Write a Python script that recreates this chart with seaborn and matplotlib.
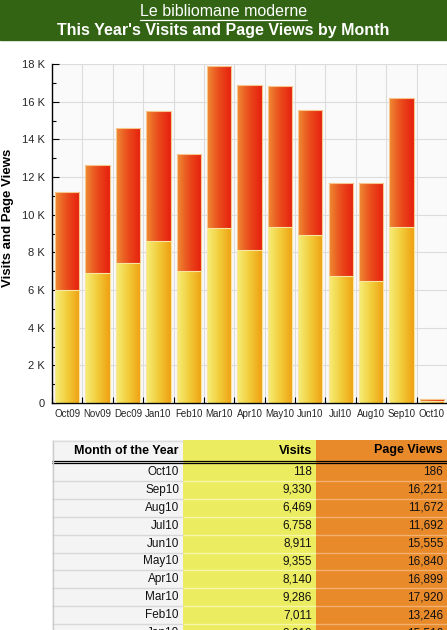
import numpy as np
import pandas as pd
import matplotlib
matplotlib.use("Agg")
import matplotlib.pyplot as plt
import seaborn as sns
from matplotlib.colors import LinearSegmentedColormap
from matplotlib.lines import Line2D

months = ["Oct09", "Nov09", "Dec09", "Jan10", "Feb10", "Mar10", "Apr10",
          "May10", "Jun10", "Jul10", "Aug10", "Sep10", "Oct10"]
visits = [6000, 6900, 7440, 8610, 7011, 9286, 8140, 9355, 8911, 6758, 6469, 9330, 118]
page_views = [11230, 12620, 14590, 15510, 13246, 17920, 16899, 16840, 15555,
              11692, 11672, 16221, 186]
yticks = list(range(0, 18001, 2000))
ytick_labels = ["0"] + [f"{v // 1000} K" for v in yticks[1:]]

df = pd.DataFrame({"month": months, "visits": visits, "page_views": page_views})

sns.set_theme(style="white")
plt.rcParams["font.family"] = ["Liberation Sans", "DejaVu Sans"]

W, H = 447, 630
fig = plt.figure(figsize=(W / 100, H / 100), dpi=100)


def fx(px):
    return px / W


def fy(py):
    return 1 - py / H


# green banner with the two title lines
fig.patches.append(plt.Rectangle((0, fy(40)), 1, 40 / H, transform=fig.transFigure,
                                 color="#326414", zorder=0))
t1 = fig.text(0.5, fy(12), "Le bibliomane moderne", color="white",
              ha="center", va="center", fontsize=11.5)
fig.text(0.5, fy(30), "This Year's Visits and Page Views by Month", color="white",
         ha="center", va="center", fontsize=11.5, fontweight="bold")

# chart
ax = fig.add_axes([fx(52), fy(403), fx(395), 339 / H])
ax.set_facecolor("#fafafa")
sns.barplot(data=df, x="month", y="page_views", ax=ax, width=0.8, color="#e85020",
            edgecolor="#f6c68c", linewidth=0.8, saturation=1)
sns.barplot(data=df, x="month", y="visits", ax=ax, width=0.8, color="#f0c030",
            edgecolor="#f8e6a0", linewidth=0.8, saturation=1)

pv_cmap = LinearSegmentedColormap.from_list("pv", ["#ee8a32", "#ea4a1c", "#e6200e"])
vi_cmap = LinearSegmentedColormap.from_list("vi", ["#f6ee78", "#f2cc3a", "#eea012"])
grad = np.linspace(0, 1, 64).reshape(1, -1)
n = len(months)
for i, p in enumerate(list(ax.patches)):
    cmap = pv_cmap if i < n else vi_cmap
    z = 1.9 if i < n else 2.5
    x0, y0 = p.get_x(), p.get_y()
    w, h = p.get_width(), p.get_height()
    img = ax.imshow(grad, cmap=cmap, aspect="auto", extent=(x0, x0 + w, y0, y0 + h),
                    zorder=z, interpolation="bilinear")
    img.set_clip_path(p)
    p.set_facecolor("none")
    p.set_zorder(z + 0.05)

ax.set_xlim(-0.5, n - 0.5)
ax.set_ylim(0, 18000)
ax.set_yticks(yticks)
ax.set_yticklabels(ytick_labels)
ax.set_yticks(range(1000, 18000, 2000), minor=True)
ax.set_xticks(range(n))
ax.set_xticklabels(months)
ax.set_xticks(np.arange(-0.5, n, 1), minor=True)
ax.grid(which="major", axis="y", color="#dcdcdc", lw=0.8)
ax.grid(which="minor", axis="x", color="#dcdcdc", lw=0.8)
ax.set_axisbelow(True)
ax.tick_params(axis="y", which="major", direction="in", length=5, width=0.8,
               color="black", labelsize=8, pad=5, left=True)
ax.tick_params(axis="y", which="minor", direction="in", length=3, width=0.8,
               color="black", left=True)
ax.tick_params(axis="x", which="major", length=0, labelsize=7, pad=4)
ax.tick_params(axis="x", which="minor", direction="in", length=4, width=0.8,
               color="black", bottom=True)
for s in ["top", "right"]:
    ax.spines[s].set_visible(False)
for s in ["left", "bottom"]:
    ax.spines[s].set_color("black")
    ax.spines[s].set_linewidth(1)
ax.set_xlabel("")
ax.set_ylabel("")
fig.text(fx(8), fy(218), "Visits and Page Views", rotation=90, ha="center",
         va="center", fontsize=9.5, fontweight="bold", color="black")

# table below the chart (only the rows that fit on the page)
tbl = df.iloc[::-1].reset_index(drop=True).iloc[:10]
headers = ["Month of the Year", "Visits", "Page Views"]
col_edges = [0, 131, 264, 395]
col_colors = ["#f4f4f4", "#ecec60", "#e98a2a"]
sep_colors = ["#d8d8d8", "#f6f6a8", "#f2b070"]
head_h, row_h, first = 21, 17.9, 23

tax = fig.add_axes([fx(52), 0, fx(395), 190 / H])
tax.set_xlim(0, 395)
tax.set_ylim(190, 0)
tax.axis("off")
for c in range(3):
    tax.axvspan(col_edges[c], col_edges[c + 1], color=col_colors[c], lw=0, zorder=0)
    tax.text(col_edges[c + 1] - 4, head_h / 2, headers[c], ha="right", va="center",
             fontsize=9, fontweight="bold", color="black")
for r in range(len(tbl)):
    top = first + r * row_h
    vals = [tbl.month[r], f"{tbl.visits[r]:,}", f"{tbl.page_views[r]:,}"]
    for c in range(3):
        tax.hlines(top + row_h, col_edges[c], col_edges[c + 1], color=sep_colors[c],
                   lw=1, zorder=1)
        tax.text(col_edges[c + 1] - 4, top + row_h / 2, vals[c], ha="right",
                 va="center", fontsize=8.5, color="#111111")
tax.hlines([head_h + 0.3, head_h + 2.0], 0, 395, color="black", lw=0.9, zorder=2)
tax.vlines(0.5, 0, 190, color="#cccccc", lw=1, zorder=2)
tax.hlines(0.5, 0, col_edges[1], color="#dddddd", lw=1, zorder=2)

# underline the site name
fig.canvas.draw()
bb = t1.get_window_extent()
fig.lines.append(Line2D([bb.x0 / W, bb.x1 / W], [fy(19.5), fy(19.5)],
                        transform=fig.transFigure, color="white", lw=0.9))

fig.savefig("out.png", dpi=100)
